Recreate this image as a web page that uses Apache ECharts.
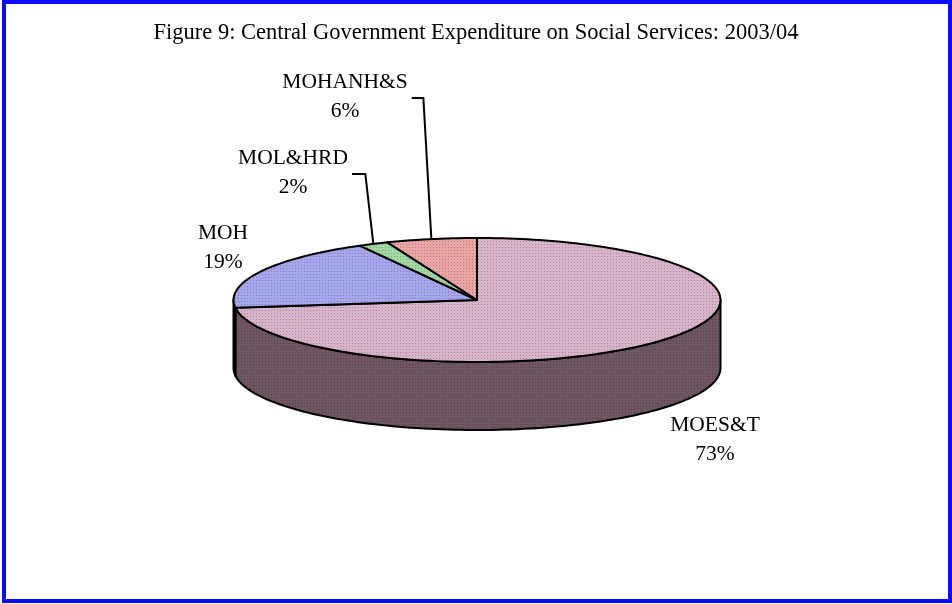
<!DOCTYPE html>
<html>
<head>
<meta charset="utf-8">
<script src="https://cdn.jsdelivr.net/npm/echarts@6/dist/echarts.min.js"></script>
<style>
  html, body { margin: 0; padding: 0; background: #ffffff; }
  #chart { width: 952px; height: 604px; }
</style>
</head>
<body>
<div id="chart"></div>
<script>
// Central government social-services spending by ministry, 2003/04 (per cent of total)
const categories = ['MOES&T', 'MOH', 'MOL&HRD', 'MOHANH&S'];
const shares = [73, 19, 2, 6];
const chartTitle = 'Figure 9: Central Government Expenditure on Social Services: 2003/04';

// Fill colours for the top faces and the darker rim
const topColors = ['#d8b4ca', '#a6a6ec', '#a3d8a3', '#eca5a5'];
const sideColors = ['#6f5662', '#4c4c88', '#4c784c', '#884c4c'];

// Disc layout (pixels)
const disc = { cx: 477, cy: 300, rx: 243.5, ry: 62, depth: 68 };
// Centre of each two-line label block, and whether it gets a leader line
const labelPos = [[715, 440], [223, 248], [293, 173], [345, 97]];
const hasLeader = [false, false, true, true];
const labelFont = { size: 21.5, family: '"Liberation Serif", "Times New Roman", serif', lineHeight: 29 };

// Small stippled tile so the faces carry a fine dot texture
function stipple(base, amount) {
  const c = document.createElement('canvas');
  c.width = 3; c.height = 3;
  const ctx = c.getContext('2d');
  ctx.fillStyle = base;
  ctx.fillRect(0, 0, 3, 3);
  ctx.fillStyle = 'rgba(0,0,0,' + amount + ')';
  ctx.fillRect(1, 1, 1, 1);
  return { image: c, repeat: 'repeat' };
}

const total = shares.reduce((a, b) => a + b, 0);
// Slices run clockwise from 12 o'clock; angles in degrees, maths convention
function sliceAngles(i) {
  let before = 0;
  for (let k = 0; k < i; k++) before += shares[k];
  const start = 90 - before / total * 360;
  const end = start - shares[i] / total * 360;
  return { start, end };
}
function pt(deg, dy) {
  const r = deg * Math.PI / 180;
  return [disc.cx + disc.rx * Math.cos(r), disc.cy - disc.ry * Math.sin(r) + (dy || 0)];
}
function arc(from, to, dy) {
  const pts = [];
  const n = Math.max(2, Math.ceil(Math.abs(to - from) / 1.5));
  for (let j = 0; j <= n; j++) pts.push(pt(from + (to - from) * j / n, dy));
  return pts;
}

const seriesData = shares.map((v, i) => ({ name: categories[i], value: v }));

function renderSide(params, api) {
  const i = params.dataIndex;
  const { start, end } = sliceAngles(i);
  const children = [];
  // the rim is only visible on the front half of the disc
  [-360, 0, 360].forEach(k => {
    const lo = Math.max(end, 180 + k);
    const hi = Math.min(start, 360 + k);
    if (hi - lo > 0.01) {
      const pts = arc(lo, hi, 0).concat(arc(hi, lo, disc.depth));
      children.push({
        type: 'polygon',
        shape: { points: pts },
        style: { fill: stipple(sideColors[i], 0.25), stroke: '#000', lineWidth: 2, lineJoin: 'round' }
      });
    }
  });
  return { type: 'group', children };
}

function renderTop(params, api) {
  const i = params.dataIndex;
  const v = api.value(0);
  const { start, end } = sliceAngles(i);
  const pts = [[disc.cx, disc.cy]].concat(arc(start, end, 0));
  const children = [{
    type: 'polygon',
    shape: { points: pts },
    style: { fill: stipple(topColors[i], 0.22), stroke: '#000', lineWidth: 2, lineJoin: 'round' }
  }];
  const [lx, ly] = labelPos[i];
  const pct = Math.round(v / total * 100) + '%';
  children.push({
    type: 'text',
    style: {
      text: categories[i] + '\n' + pct,
      x: lx, y: ly,
      align: 'center', verticalAlign: 'middle',
      fontSize: labelFont.size, fontFamily: labelFont.family,
      lineHeight: labelFont.lineHeight, fill: '#000'
    }
  });
  if (hasLeader[i]) {
    const mid = (start + end) / 2;
    const anchor = pt(mid, 0);
    const w = echarts.format.getTextRect
      ? echarts.format.getTextRect(categories[i], labelFont.size + 'px ' + labelFont.family).width
      : 110;
    const x0 = lx + w / 2 + 4;
    const yy = ly + 1;
    children.push({
      type: 'polyline',
      shape: { points: [[x0, yy], [anchor[0] - 8, yy], anchor] },
      style: { stroke: '#000', lineWidth: 2, fill: null }
    });
  }
  return { type: 'group', children };
}

const chart = echarts.init(document.getElementById('chart'), null, { renderer: 'canvas' });
chart.setOption({
  animation: false,
  backgroundColor: '#ffffff',
  title: {
    text: chartTitle,
    left: 'center',
    top: 17,
    textStyle: { fontFamily: labelFont.family, fontSize: 22.5, fontWeight: 'normal', color: '#000' }
  },
  graphic: [{
    type: 'rect',
    shape: { x: 4, y: 2, width: 946, height: 599 },
    style: { fill: null, stroke: '#0a0aff', lineWidth: 4 },
    z: 100
  }],
  series: [
    { type: 'custom', name: 'rim', coordinateSystem: 'none', renderItem: renderSide, data: seriesData, silent: true },
    { type: 'custom', name: 'top', coordinateSystem: 'none', renderItem: renderTop, data: seriesData, silent: true }
  ]
});
</script>
</body>
</html>
